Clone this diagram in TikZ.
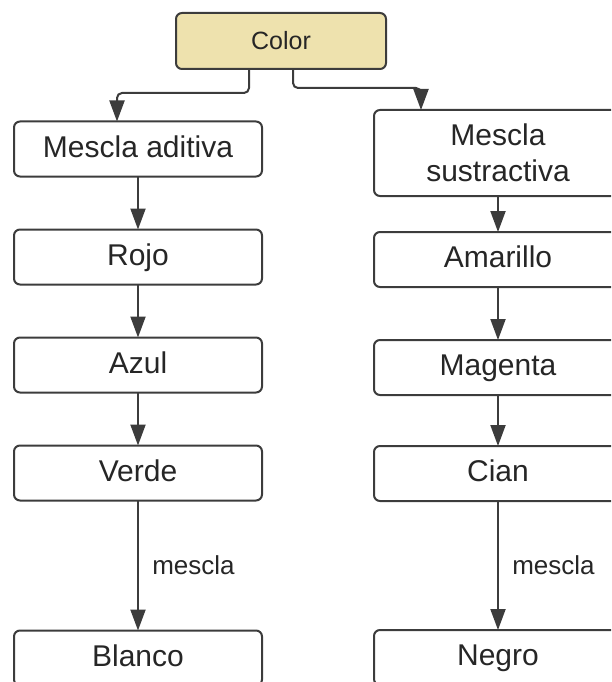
\documentclass[tikz,border=0pt]{standalone}
\usepackage{fontspec}
\setmainfont{Liberation Sans}
\usetikzlibrary{arrows.meta, positioning}
\definecolor{linegray}{HTML}{3C3C3C}
\definecolor{boxyellow}{HTML}{EEE2AE}

\begin{document}
\begin{tikzpicture}[x=1pt, y=-1pt, node distance=53pt, outer sep=0pt]
    \tikzstyle{frame} = [rectangle, draw=linegray, line width=2pt, rounded corners=6pt, minimum width=248pt, minimum height=55pt, font=\fontsize{30}{36}\selectfont, text=black!85, align=center]
    \tikzstyle{box} = [frame, text height=22pt, text depth=6pt]
    \tikzstyle{link} = [draw=linegray, line width=2pt, rounded corners=5pt, -{Triangle[length=21pt, width=15pt]}]
    \tikzstyle{lbl} = [font=\fontsize{26}{30}\selectfont, text=black!85]
    \useasboundingbox (0,0) rectangle (611,682);
    \clip (0,0) rectangle (611,682);
    \node[frame, fill=boxyellow, minimum width=210pt, minimum height=56pt, font=\fontsize{25}{28}\selectfont] (color) at (281,41) {Color};
    % additive side
    \node[box] (aditiva) at (138,149) {Mescla aditiva};
    \node[box, below=of aditiva] (rojo) {Rojo};
    \node[box, below=of rojo] (azul) {Azul};
    \node[box, below=of azul] (verde) {Verde};
    \node[box, below=130pt of verde] (blanco) {Blanco};
    % subtractive side
    \node[frame, minimum height=86pt] (sustractiva) at (498,153) {Mescla\\sustractiva};
    \node[box, below=36pt of sustractiva] (amarillo) {Amarillo};
    \node[box, below=of amarillo] (magenta) {Magenta};
    \node[box, below=51pt of magenta] (cian) {Cian};
    \node[box, below=129pt of cian] (negro) {Negro};
    % connectors
    \draw[link] ([xshift=73pt]color.south west) -- ++(0,24) -| ([xshift=103pt]aditiva.north west);
    \draw[link] ([xshift=117pt]color.south west) -- ++(0,19) -| ([xshift=47pt]sustractiva.north west);
    \foreach \a/\b in {aditiva/rojo, rojo/azul, azul/verde, sustractiva/amarillo, amarillo/magenta, magenta/cian}
        \draw[link] (\a) -- (\b);
    \draw[link] (verde) -- node[lbl, right=11pt] {mescla} (blanco);
    \draw[link] (cian) -- node[lbl, right=11pt] {mescla} (negro);
\end{tikzpicture}
\end{document}
